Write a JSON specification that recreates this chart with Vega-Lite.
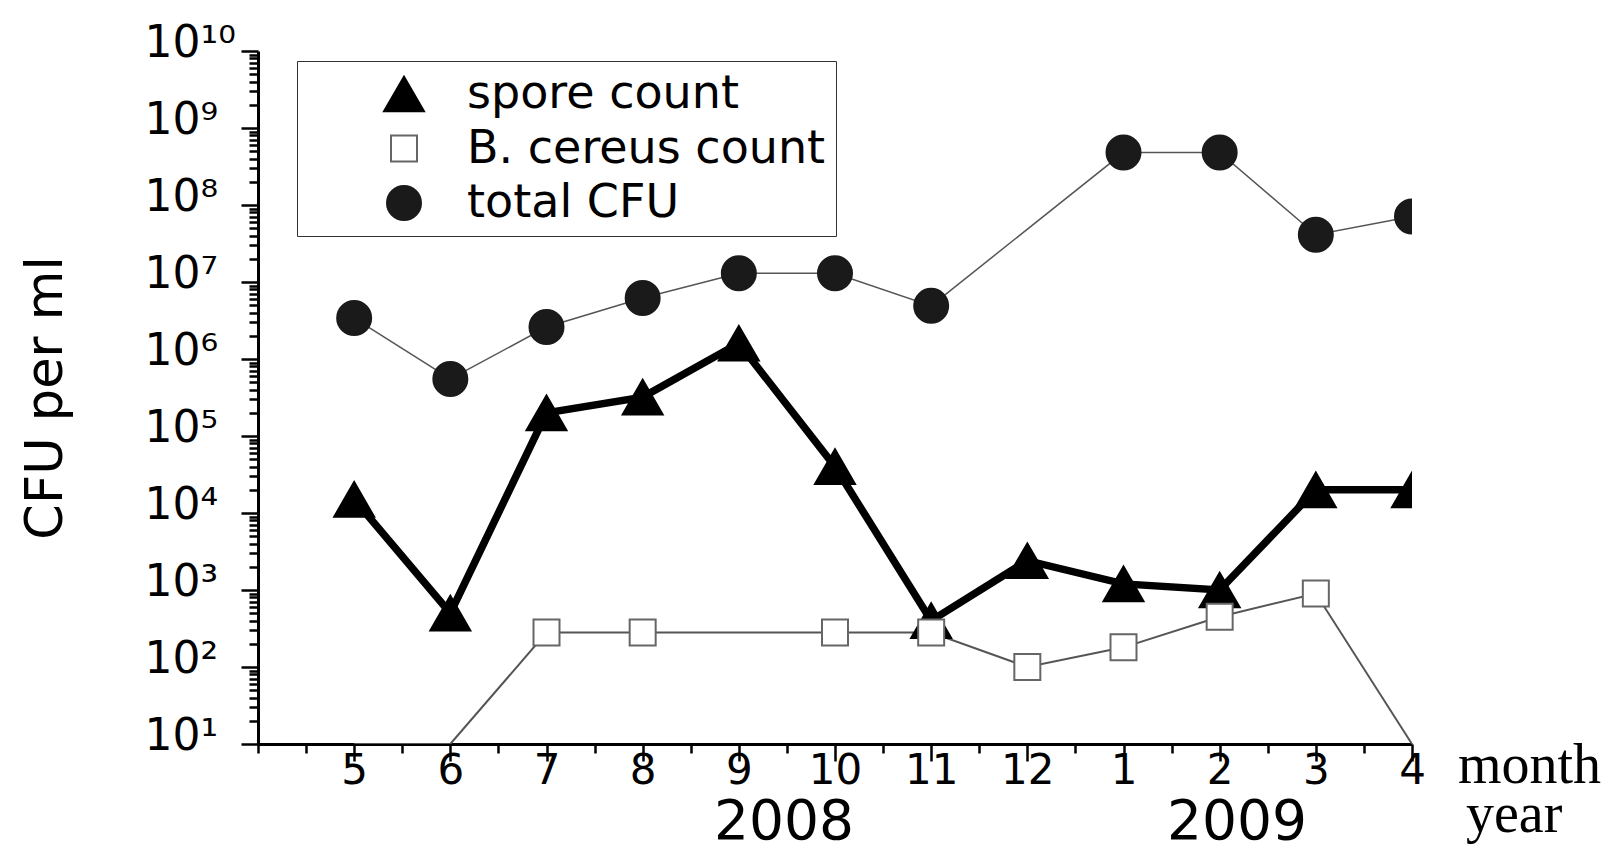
{
  "$schema": "https://vega.github.io/schema/vega-lite/v6.json",
  "width": 1154,
  "height": 693,
  "autosize": {"type": "none"},
  "padding": {"left": 258, "top": 51, "right": 201, "bottom": 106},
  "background": "white",
  "config": {
    "view": {"stroke": null},
    "font": "DejaVu Sans",
    "legend": {
      "orient": "none",
      "legendX": 39,
      "legendY": 10,
      "title": null,
      "labelFont": "DejaVu Sans",
      "labelFontSize": 46,
      "labelColor": "black",
      "labelLimit": 2000,
      "symbolStrokeWidth": 2,
      "symbolOffset": 74,
      "labelOffset": 40,
      "rowPadding": 8.5,
      "padding": 10,
      "strokeColor": "#333333"
    },
    "axis": {
      "domainColor": "black",
      "domainWidth": 3,
      "tickColor": "black",
      "tickWidth": 2.5,
      "labelColor": "black",
      "grid": false,
      "labelFont": "DejaVu Sans",
      "titleFont": "DejaVu Sans",
      "titleColor": "black"
    }
  },
  "data": {
    "values": [
      {"series": "spore count", "idx": 1, "month": "5", "value": 15000, "detected": true},
      {"series": "spore count", "idx": 2, "month": "6", "value": 500, "detected": true},
      {"series": "spore count", "idx": 3, "month": "7", "value": 200000, "detected": true},
      {"series": "spore count", "idx": 4, "month": "8", "value": 320000, "detected": true},
      {"series": "spore count", "idx": 5, "month": "9", "value": 1600000, "detected": true},
      {"series": "spore count", "idx": 6, "month": "10", "value": 40000, "detected": true},
      {"series": "spore count", "idx": 7, "month": "11", "value": 400, "detected": true},
      {"series": "spore count", "idx": 8, "month": "12", "value": 2400, "detected": true},
      {"series": "spore count", "idx": 9, "month": "1", "value": 1200, "detected": true},
      {"series": "spore count", "idx": 10, "month": "2", "value": 1000, "detected": true},
      {"series": "spore count", "idx": 11, "month": "3", "value": 20000, "detected": true},
      {"series": "spore count", "idx": 12, "month": "4", "value": 20000, "detected": true},
      {"series": "B. cereus count", "idx": 1, "month": "5", "value": 10, "detected": false},
      {"series": "B. cereus count", "idx": 2, "month": "6", "value": 10, "detected": false},
      {"series": "B. cereus count", "idx": 3, "month": "7", "value": 280, "detected": true},
      {"series": "B. cereus count", "idx": 4, "month": "8", "value": 280, "detected": true},
      {"series": "B. cereus count", "idx": 6, "month": "10", "value": 280, "detected": true},
      {"series": "B. cereus count", "idx": 7, "month": "11", "value": 280, "detected": true},
      {"series": "B. cereus count", "idx": 8, "month": "12", "value": 100, "detected": true},
      {"series": "B. cereus count", "idx": 9, "month": "1", "value": 180, "detected": true},
      {"series": "B. cereus count", "idx": 10, "month": "2", "value": 450, "detected": true},
      {"series": "B. cereus count", "idx": 11, "month": "3", "value": 900, "detected": true},
      {"series": "B. cereus count", "idx": 12, "month": "4", "value": 10, "detected": false},
      {"series": "total CFU", "idx": 1, "month": "5", "value": 3400000, "detected": true},
      {"series": "total CFU", "idx": 2, "month": "6", "value": 550000, "detected": true},
      {"series": "total CFU", "idx": 3, "month": "7", "value": 2600000, "detected": true},
      {"series": "total CFU", "idx": 4, "month": "8", "value": 6200000, "detected": true},
      {"series": "total CFU", "idx": 5, "month": "9", "value": 13000000, "detected": true},
      {"series": "total CFU", "idx": 6, "month": "10", "value": 13000000, "detected": true},
      {"series": "total CFU", "idx": 7, "month": "11", "value": 4900000, "detected": true},
      {"series": "total CFU", "idx": 9, "month": "1", "value": 480000000, "detected": true},
      {"series": "total CFU", "idx": 10, "month": "2", "value": 480000000, "detected": true},
      {"series": "total CFU", "idx": 11, "month": "3", "value": 41000000, "detected": true},
      {"series": "total CFU", "idx": 12, "month": "4", "value": 71000000, "detected": true}
    ]
  },
  "resolve": {"axis": {"x": "independent", "y": "independent"}},
  "layer": [
    {
      "mark": {"type": "line", "clip": true},
      "encoding": {
        "x": {
          "field": "idx", "type": "quantitative",
          "scale": {"domain": [0, 12], "nice": false, "zero": false},
          "axis": {
            "orient": "bottom",
            "title": null,
            "values": [1, 2, 3, 4, 5, 6, 7, 8, 9, 10, 11, 12],
            "tickSize": 17,
            "labelExpr": "['','5','6','7','8','9','10','11','12','1','2','3','4'][datum.value]",
            "labelFontSize": 42,
            "labelPadding": -11,
            "labelFlush": false,
            "labelOverlap": false,
            "labelBound": false
          }
        },
        "y": {
          "field": "value", "type": "quantitative",
          "scale": {"type": "log", "domain": [10, 10000000000], "nice": false},
          "axis": {
            "orient": "left",
            "title": "CFU per ml",
            "titleFontSize": 51,
            "titleFontWeight": "normal",
            "titlePadding": 72,
            "values": [10, 100, 1000, 10000, 100000, 1000000, 1e7, 1e8, 1e9, 1e10],
            "tickSize": 17,
            "labelExpr": "'10' + ['⁰','¹','²','³','⁴','⁵','⁶','⁷','⁸','⁹','¹⁰'][round(log(datum.value)/LN10)]",
            "labelFontSize": 44,
            "labelAlign": "left",
            "labelBaseline": "middle",
            "labelPadding": 97,
            "labelOffset": -8,
            "labelOverlap": false,
            "labelBound": false,
            "labelFlush": false
          }
        },
        "color": {
          "field": "series", "type": "nominal",
          "scale": {"domain": ["B. cereus count", "spore count", "total CFU"], "range": ["#555555", "#000000", "#555555"]},
          "legend": null
        },
        "strokeWidth": {
          "field": "series", "type": "nominal",
          "scale": {"type": "ordinal", "domain": ["B. cereus count", "spore count", "total CFU"], "range": [2, 7.5, 1.5]},
          "legend": null
        }
      }
    },
    {
      "transform": [{"filter": "datum.detected"}],
      "mark": {"type": "point", "filled": true, "clip": true, "strokeWidth": 2, "opacity": 1},
      "encoding": {
        "x": {
          "field": "idx", "type": "quantitative",
          "scale": {"domain": [0, 12], "nice": false, "zero": false},
          "axis": {
            "orient": "bottom",
            "title": null,
            "domain": false,
            "labels": false,
            "tickSize": 9,
            "values": [0, 0.5, 1.5, 2.5, 3.5, 4.5, 5.5, 6.5, 7.5, 8.5, 9.5, 10.5, 11.5]
          }
        },
        "y": {
          "field": "value", "type": "quantitative",
          "scale": {"type": "log", "domain": [10, 10000000000], "nice": false},
          "axis": {
            "orient": "left",
            "title": null,
            "domain": false,
            "labels": false,
            "tickSize": 9,
            "values": [20,30,40,50,60,70,80,90,200,300,400,500,600,700,800,900,2000,3000,4000,5000,6000,7000,8000,9000,20000,30000,40000,50000,60000,70000,80000,90000,200000,300000,400000,500000,600000,700000,800000,900000,2000000,3000000,4000000,5000000,6000000,7000000,8000000,9000000,2e7,3e7,4e7,5e7,6e7,7e7,8e7,9e7,2e8,3e8,4e8,5e8,6e8,7e8,8e8,9e8,2e9,3e9,4e9,5e9,6e9,7e9,8e9,9e9]
          }
        },
        "shape": {
          "field": "series", "type": "nominal",
          "scale": {"domain": ["spore count", "B. cereus count", "total CFU"], "range": ["triangle-up", "square", "circle"]}
        },
        "fill": {
          "field": "series", "type": "nominal",
          "scale": {"domain": ["spore count", "B. cereus count", "total CFU"], "range": ["#000000", "#ffffff", "#1a1a1a"]}
        },
        "stroke": {
          "field": "series", "type": "nominal",
          "scale": {"domain": ["spore count", "B. cereus count", "total CFU"], "range": ["#000000", "#666666", "#1a1a1a"]}
        },
        "size": {
          "field": "series", "type": "nominal",
          "scale": {"type": "ordinal", "domain": ["spore count", "B. cereus count", "total CFU"], "range": [1600, 676, 1156]}
        }
      }
    },
    {
      "data": {"values": [{}]},
      "mark": {"type": "text", "text": "2008", "font": "DejaVu Sans", "fontSize": 55, "align": "center", "baseline": "middle", "dy": 78, "color": "black"},
      "encoding": {"x": {"datum": 5.47, "axis": null}, "y": {"datum": 10, "axis": null}}
    },
    {
      "data": {"values": [{}]},
      "mark": {"type": "text", "text": "2009", "font": "DejaVu Sans", "fontSize": 55, "align": "center", "baseline": "middle", "dy": 78, "color": "black"},
      "encoding": {"x": {"datum": 10.18, "axis": null}, "y": {"datum": 10, "axis": null}}
    },
    {
      "data": {"values": [{}]},
      "mark": {"type": "text", "text": "month", "font": "Liberation Serif", "fontSize": 56, "align": "left", "baseline": "alphabetic", "dx": 46, "dy": 39, "color": "black"},
      "encoding": {"x": {"datum": 12, "axis": null}, "y": {"datum": 10, "axis": null}}
    },
    {
      "data": {"values": [{}]},
      "mark": {"type": "text", "text": "year", "font": "Liberation Serif", "fontSize": 56, "align": "left", "baseline": "alphabetic", "dx": 54, "dy": 88, "color": "black"},
      "encoding": {"x": {"datum": 12, "axis": null}, "y": {"datum": 10, "axis": null}}
    }
  ]
}
